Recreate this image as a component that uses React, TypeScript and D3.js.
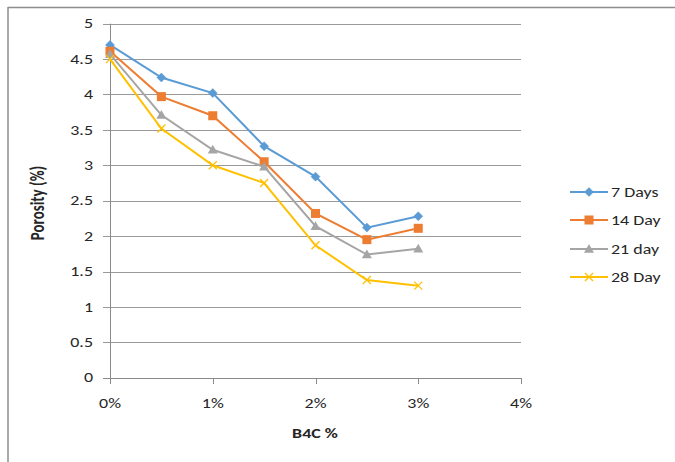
import React from "react";
import * as d3 from "d3";

const xValues = [0, 0.5, 1, 1.5, 2, 2.5, 3];
const seriesNames = ["7 Days", "14 Day", "21 day", "28 Day"];
const days7 = [4.7, 4.24, 4.02, 3.27, 2.84, 2.12, 2.28];
const days14 = [4.61, 3.97, 3.7, 3.05, 2.32, 1.95, 2.11];
const days21 = [4.57, 3.71, 3.22, 2.98, 2.14, 1.74, 1.82];
const days28 = [4.5, 3.52, 3.0, 2.75, 1.87, 1.38, 1.3];
const yTicks = [0, 0.5, 1, 1.5, 2, 2.5, 3, 3.5, 4, 4.5, 5];
const xTicks = [0, 1, 2, 3, 4];
const xTickLabels = ["0%", "1%", "2%", "3%", "4%"];

const colors = ["#5B9BD5", "#ED7D31", "#A5A5A5", "#FFC000"];
const markers = ["diamond", "square", "triangle", "x"];
const allSeries = [days7, days14, days21, days28];

const font = "Carlito, 'Open Sans', 'Noto Sans', sans-serif";
const SX = 1.33;

function Marker({ type, x, y, color }: { type: string; x: number; y: number; color: string }) {
  if (type === "diamond") {
    const s = 4.5;
    return <path d={`M${x},${y - s}L${x + s},${y}L${x},${y + s}L${x - s},${y}Z`} fill={color} stroke={color} strokeWidth={0.5} />;
  }
  if (type === "square") {
    const s = 4.5;
    return <rect x={x - s} y={y - s} width={2 * s} height={2 * s} fill={color} />;
  }
  if (type === "triangle") {
    const s = 5;
    return <path d={`M${x},${y - s}L${x + s},${y + s * 0.75}L${x - s},${y + s * 0.75}Z`} fill={color} />;
  }
  const s = 4;
  return (
    <path d={`M${x - s},${y - s}L${x + s},${y + s}M${x - s},${y + s}L${x + s},${y - s}`} stroke={color} strokeWidth={1.3} fill="none" />
  );
}

function T({ x, y, anchor, size, bold, children, dy }: any) {
  return (
    <text
      transform={`translate(${x},${y}) scale(${SX},1)`}
      dy={dy}
      textAnchor={anchor}
      fontSize={size}
      fontWeight={bold ? "bold" : "normal"}
      fill="#262626"
    >
      {children}
    </text>
  );
}

export default function App() {
  const x = d3.scaleLinear().domain([0, 4]).range([110, 521]);
  const y = d3.scaleLinear().domain([0, 5]).range([377.7, 23.7]);
  const line = d3
    .line<number>()
    .x((_, i) => x(xValues[i]))
    .y((d) => y(d));

  const legendY = [192, 220, 249, 277];

  return (
    <svg width={675} height={462} style={{ position: "absolute", left: 0, top: 0 }} fontFamily={font}>
      <rect x={0} y={0} width={675} height={462} fill="#fff" />
      <line x1={8} y1={7.5} x2={675} y2={7.5} stroke="#8c8c8c" strokeWidth={1.5} />
      <line x1={8} y1={7} x2={8} y2={462} stroke="#8c8c8c" strokeWidth={1.5} />

      {yTicks.map((t) => (
        <g key={t}>
          <line x1={103} x2={521} y1={Math.round(y(t)) + 0.5} y2={Math.round(y(t)) + 0.5} stroke={t === 0 ? "#8a8a8a" : "#9a9a9a"} strokeWidth={1} />
          <T x={93} y={y(t)} dy="0.35em" anchor="end" size={13.5}>
            {t}
          </T>
        </g>
      ))}
      <line x1={110.5} x2={110.5} y1={23.7} y2={378} stroke="#8a8a8a" />
      {xTicks.map((t, i) => (
        <g key={t}>
          <line x1={Math.round(x(t)) + 0.5} x2={Math.round(x(t)) + 0.5} y1={378} y2={384} stroke="#8a8a8a" />
          <T x={x(t)} y={408} anchor="middle" size={13.5}>
            {xTickLabels[i]}
          </T>
        </g>
      ))}

      <T x={315} y={438} anchor="middle" size={13.5} bold>
        B4C %
      </T>
      <text transform={`translate(44,203) rotate(-90) scale(1,${SX})`} textAnchor="middle" fontSize={15} fontWeight="bold" fill="#262626">
        Porosity (%)
      </text>

      {allSeries.map((s, si) => (
        <g key={si}>
          <path d={line(s) || ""} fill="none" stroke={colors[si]} strokeWidth={2} />
          {s.map((v, i) => (
            <Marker key={i} type={markers[si]} x={x(xValues[i])} y={y(v)} color={colors[si]} />
          ))}
        </g>
      ))}

      {seriesNames.map((n, i) => (
        <g key={n}>
          <line x1={570} x2={608} y1={legendY[i]} y2={legendY[i]} stroke={colors[i]} strokeWidth={2} />
          <Marker type={markers[i]} x={589} y={legendY[i]} color={colors[i]} />
          <T x={611} y={legendY[i]} dy="0.35em" size={13.5}>
            {n}
          </T>
        </g>
      ))}
    </svg>
  );
}
